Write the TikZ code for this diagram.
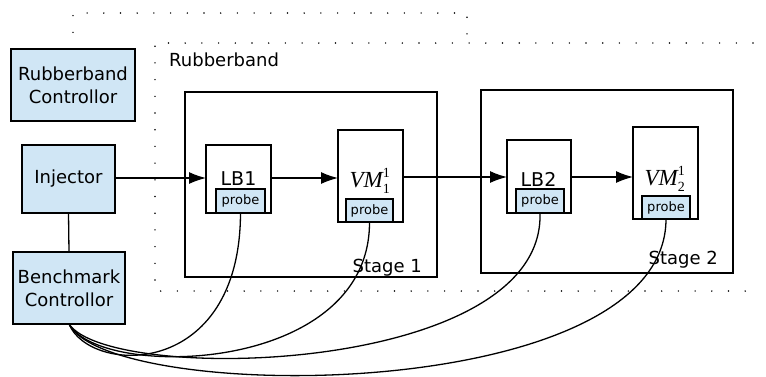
\documentclass[tikz,border=0pt]{standalone}
\usepackage{fontspec}
\setmainfont{DejaVu Sans}
\newfontfamily\vmfont{Liberation Serif}
\usetikzlibrary{arrows.meta}
\definecolor{boxblue}{HTML}{D0E6F5}
\newcommand{\vmdigit}[1]{\mbox{\vmfont\fontsize{14}{14}\selectfont #1}}
\newcommand{\vmlabel}[2]{\fontsize{23}{26}\selectfont$\mbox{\vmfont\itshape VM}^{\vmdigit{#1}}_{\vmdigit{#2}}$}
\begin{document}
\begin{tikzpicture}[x=1pt,y=-1pt,
  box/.style={draw, line width=1.4pt, anchor=north west, inner sep=0pt, outer sep=0pt},
  ctrl/.style={box, fill=boxblue, align=center, font=\fontsize{18}{23}\selectfont},
  probebox/.style={box, fill=boxblue, font=\fontsize{13}{15}\selectfont},
  lbl/.style={font=\fontsize{18}{22}\selectfont, inner sep=0pt},
  vmlbl/.style={inner sep=0pt},
  dots/.style={line width=1.6pt, dash pattern=on 0pt off 16.7pt, line cap=round},
  arr/.style={line width=1.3pt, -{Latex[length=17pt,width=12pt]}},
  wire/.style={line width=1.3pt}]
\useasboundingbox (0,0) rectangle (766,376);

% dotted groups
\draw[dots] (73,49) -- (73,13) -- (467,13) -- (467,43);
\draw[dots] (753,43) -- (155,43) -- (155,291) -- (760,291);
\node[lbl, anchor=base west] (rblabel) at (169,66) {Rubberband};

% controllers
\node[ctrl, minimum width=124pt, minimum height=72pt] (rbc) at (11,49) {Rubberband\\Controllor};
\node[ctrl, minimum width=93pt, minimum height=68pt] (inj) at (22,145) {Injector};
\node[ctrl, minimum width=112pt, minimum height=72pt] (bc) at (13,252) {Benchmark\\Controllor};

% stages
\node[box, minimum width=252pt, minimum height=185pt] (st1) at (185,92) {};
\node[box, minimum width=252pt, minimum height=183pt] (st2) at (481,90) {};
\node[lbl, anchor=base east] (st1lbl) at (422,272) {Stage 1};
\node[lbl, anchor=base east] (st2lbl) at (718,264) {Stage 2};

% inner boxes
\node[box, fill=white, minimum width=65pt, minimum height=68pt] (lb1) at (206,145) {};
\node[box, fill=white, minimum width=65pt, minimum height=92pt] (vm1) at (338,130) {};
\node[box, fill=white, minimum width=64pt, minimum height=73pt] (lb2) at (507,140) {};
\node[box, fill=white, minimum width=65pt, minimum height=92pt] (vm2) at (633,127) {};

\node[lbl, font=\fontsize{19}{22}\selectfont] (lb1t) at (238.5,179) {LB1};
\node[lbl, font=\fontsize{19}{22}\selectfont] (lb2t) at (538.5,179) {LB2};
\node[vmlbl, anchor=base] (vm1t) at (370,187) {\vmlabel{1}{1}};
\node[vmlbl, anchor=base] (vm2t) at (665,185) {\vmlabel{1}{2}};

% probes
\node[probebox, minimum width=49pt, minimum height=24pt] (p1) at (216,189) {probe};
\node[probebox, minimum width=47pt, minimum height=23pt] (p2) at (346,199) {probe};
\node[probebox, minimum width=48pt, minimum height=24pt] (p3) at (516,189) {probe};
\node[probebox, minimum width=48pt, minimum height=23pt] (p4) at (642,196) {probe};

% connectors
\coordinate (a1) at (lb1.east |- 0,178);
\coordinate (a2) at (vm1.east |- 0,177);
\coordinate (a3) at (lb2.east |- 0,177);
\draw[arr] (inj.east |- 0,178) -- (lb1.west |- 0,178);
\draw[arr] (a1) -- (vm1.west |- a1);
\draw[arr] (a2) -- (lb2.west |- a2);
\draw[arr] (a3) -- (vm2.west |- a3);
\draw[wire] (inj.south) -- (bc.north);

% probe wires
\draw[wire] (bc.south) .. controls (90,375) and (240,380) .. (p1.south);
\draw[wire] (bc.south) .. controls (100,380) and (370,375) .. (p2.south);
\draw[wire] (bc.south) .. controls (110,385) and (545,375) .. (p3.south);
\draw[wire] (bc.south) .. controls (110,405) and (666,405) .. (p4.south);
\end{tikzpicture}
\end{document}
